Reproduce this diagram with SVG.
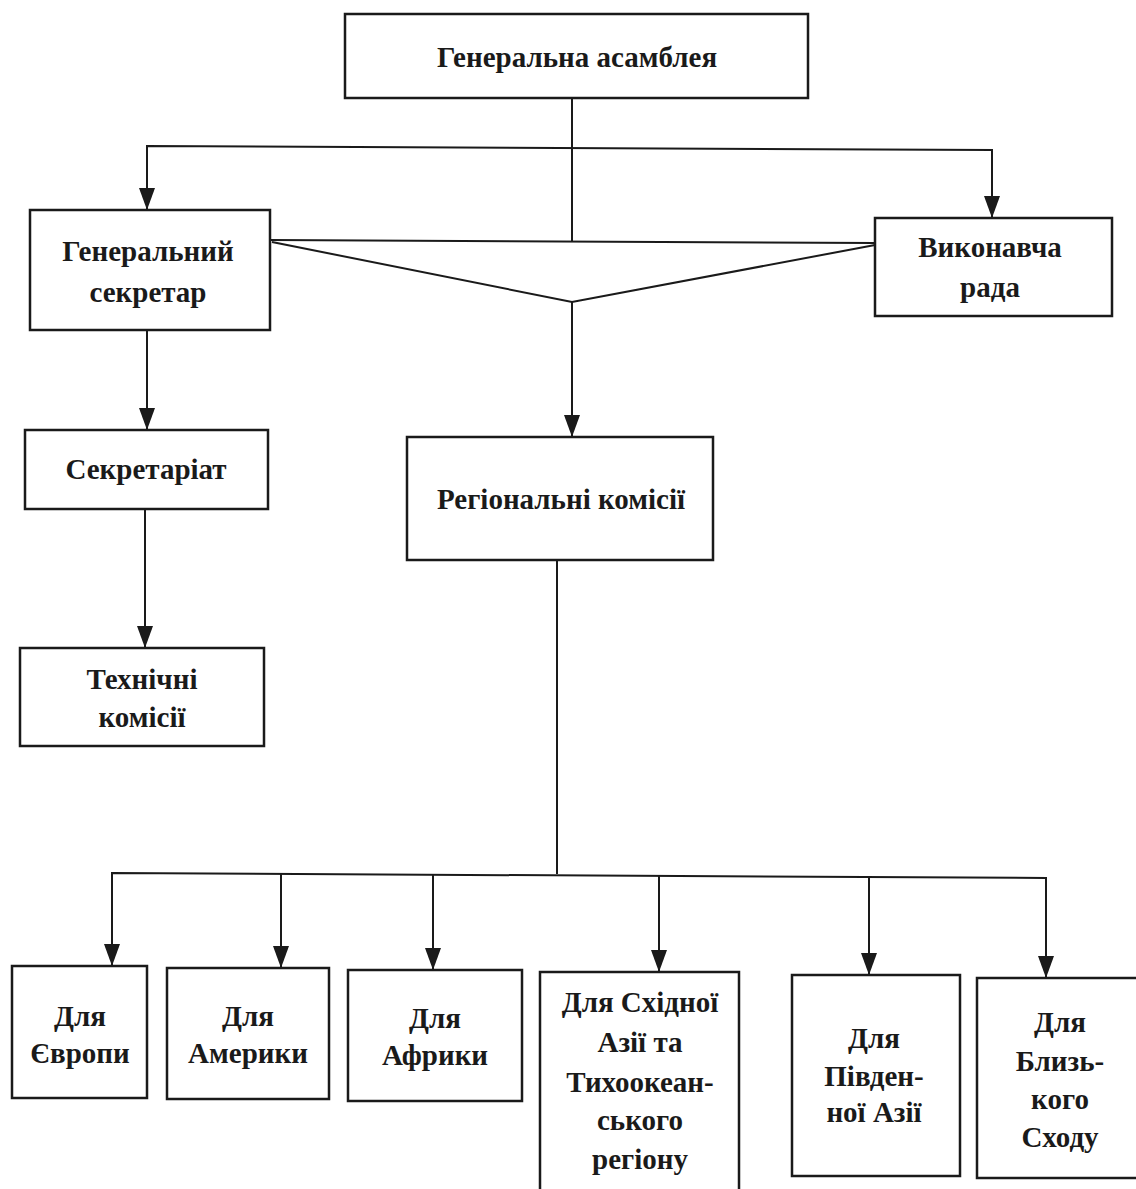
<svg xmlns="http://www.w3.org/2000/svg" width="1136" height="1189" viewBox="0 0 1136 1189">
<style>
.box{fill:#fff;stroke:#1a1a1a;stroke-width:2.5}
.ln{fill:none;stroke:#1a1a1a;stroke-width:2}
.t{font-family:"Liberation Serif","DejaVu Serif",serif;font-size:29px;font-weight:bold;fill:#1a1a1a;text-anchor:middle}
</style>
<defs>
<marker id="ah" viewBox="0 0 22 16" refX="22" refY="8" markerWidth="22" markerHeight="16" markerUnits="userSpaceOnUse" orient="auto-start-reverse">
<path d="M0,0 L22,8 L0,16 Z" fill="#1a1a1a"/>
</marker>
</defs>
<g id="connectors">
<line class="ln" x1="572" y1="98" x2="572" y2="242"/>
<polyline class="ln" points="147,210 147,146 992,150 992,218" marker-start="url(#ah)" marker-end="url(#ah)"/>
<line class="ln" x1="270" y1="240" x2="875" y2="243"/>
<polyline class="ln" points="272,242 572,302 875,245"/>
<line class="ln" x1="572" y1="302" x2="572" y2="437" marker-end="url(#ah)"/>
<line class="ln" x1="147" y1="330" x2="147" y2="430" marker-end="url(#ah)"/>
<line class="ln" x1="145" y1="509" x2="145" y2="648" marker-end="url(#ah)"/>
<line class="ln" x1="557" y1="560" x2="557" y2="874"/>
<polyline class="ln" points="112,966 112,873 1046,878 1046,978" marker-start="url(#ah)" marker-end="url(#ah)"/>
<line class="ln" x1="281" y1="874" x2="281" y2="968" marker-end="url(#ah)"/>
<line class="ln" x1="433" y1="875" x2="433" y2="970" marker-end="url(#ah)"/>
<line class="ln" x1="659" y1="876" x2="659" y2="972" marker-end="url(#ah)"/>
<line class="ln" x1="869" y1="877" x2="869" y2="975" marker-end="url(#ah)"/>
</g>
<g id="n-ga"><rect class="box" x="345" y="14" width="463" height="84"/><text class="t" x="577" y="67">Генеральна асамблея</text></g>
<g id="n-gs"><rect class="box" x="30" y="210" width="240" height="120"/><text class="t" x="148" y="261">Генеральний</text><text class="t" x="148" y="302">секретар</text></g>
<g id="n-vr"><rect class="box" x="875" y="218" width="237" height="98"/><text class="t" x="990" y="257">Виконавча</text><text class="t" x="990" y="297">рада</text></g>
<g id="n-sec"><rect class="box" x="25" y="430" width="243" height="79"/><text class="t" x="146" y="479">Секретаріат</text></g>
<g id="n-tech"><rect class="box" x="20" y="648" width="244" height="98"/><text class="t" x="142" y="689">Технічні</text><text class="t" x="142" y="727">комісії</text></g>
<g id="n-rk"><rect class="box" x="407" y="437" width="306" height="123"/><text class="t" x="561" y="509">Регіональні комісії</text></g>
<g id="n-eu"><rect class="box" x="12" y="966" width="135" height="132"/><text class="t" x="80" y="1026">Для</text><text class="t" x="80" y="1063">Європи</text></g>
<g id="n-am"><rect class="box" x="167" y="968" width="162" height="131"/><text class="t" x="248" y="1026">Для</text><text class="t" x="248" y="1063">Америки</text></g>
<g id="n-af"><rect class="box" x="348" y="970" width="174" height="131"/><text class="t" x="435" y="1028">Для</text><text class="t" x="435" y="1065">Африки</text></g>
<g id="n-ea"><rect class="box" x="540" y="972" width="199" height="230"/><text class="t" x="640" y="1012">Для Східної</text><text class="t" x="640" y="1052">Азії та</text><text class="t" x="640" y="1092">Тихоокеан-</text><text class="t" x="640" y="1130">ського</text><text class="t" x="640" y="1169">регіону</text></g>
<g id="n-sa"><rect class="box" x="792" y="975" width="168" height="201"/><text class="t" x="874" y="1048">Для</text><text class="t" x="874" y="1086">Півден-</text><text class="t" x="874" y="1122">ної Азії</text></g>
<g id="n-me"><rect class="box" x="977" y="978" width="165" height="200"/><text class="t" x="1060" y="1032">Для</text><text class="t" x="1060" y="1071">Близь-</text><text class="t" x="1060" y="1109">кого</text><text class="t" x="1060" y="1147">Сходу</text></g>
</svg>
